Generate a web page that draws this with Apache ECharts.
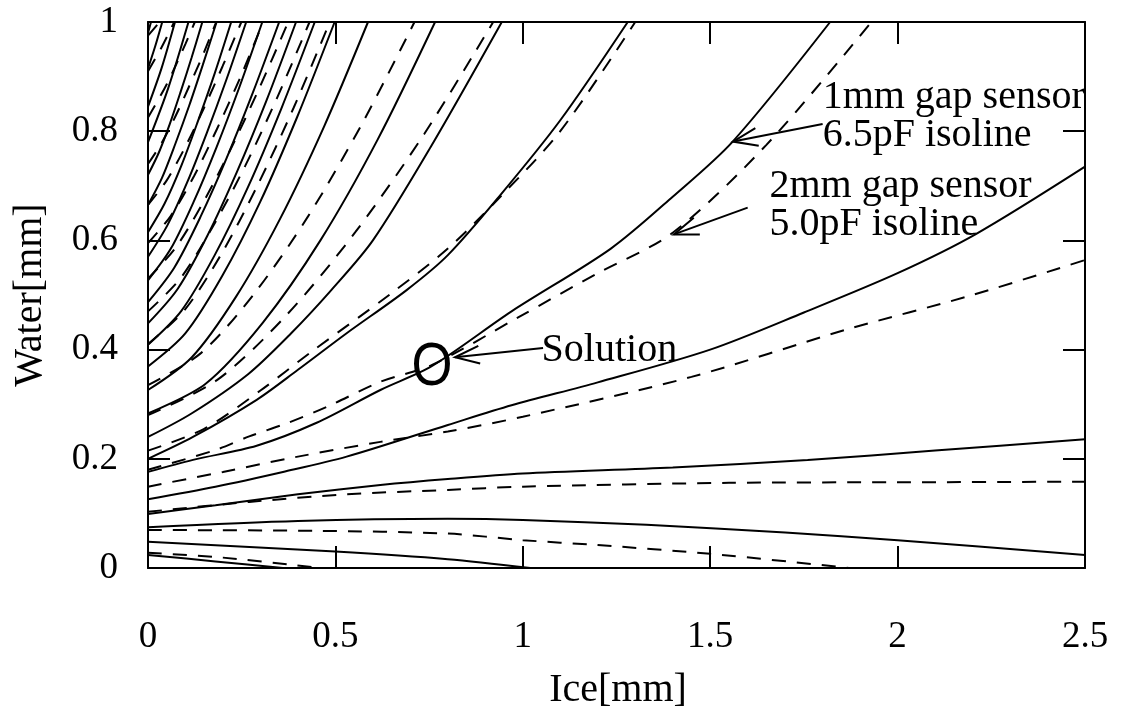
<!DOCTYPE html>
<html>
<head>
<meta charset="utf-8">
<script src="https://cdn.jsdelivr.net/npm/echarts@6/dist/echarts.min.js"></script>
<style>
  html, body { margin: 0; padding: 0; background: #fff; }
  #main { width: 1126px; height: 715px; }
</style>
</head>
<body>
<div id="main"></div>
<script>
// tick labels
const xTicks = ['0', '0.5', '1', '1.5', '2', '2.5'];
const yTicks = ['0', '0.2', '0.4', '0.6', '0.8', '1'];

// 1mm gap sensor isolines (solid), [ice, water]
const solid00 = [[0, 0.024], [0.18, 0.012], [0.36, 0]];
const solid01 = [[0, 0.048], [0.5, 0.03], [0.8, 0.016], [1.02, 0]];
const solid02 = [[0, 0.0745], [0.4, 0.086], [0.8, 0.09], [1.0, 0.088], [1.33, 0.079], [1.7, 0.065], [2.0, 0.051], [2.5, 0.024]];
const solid03 = [[0, 0.099], [0.18, 0.115], [0.4, 0.135], [0.62, 0.152], [0.8, 0.163], [1.0, 0.173], [1.4, 0.184], [1.76, 0.198], [2.1, 0.215], [2.5, 0.236]];
const solid04 = [[0, 0.126], [0.18, 0.149], [0.36, 0.176], [0.53, 0.204], [0.8, 0.262], [0.97, 0.298], [1.2, 0.34], [1.5, 0.4], [1.75, 0.468], [2.0, 0.54], [2.21, 0.612], [2.5, 0.735]];
const solid05 = [[0, 0.176], [0.12, 0.198], [0.29, 0.224], [0.45, 0.266], [0.62, 0.326], [0.758, 0.37], [0.97, 0.47], [1.235, 0.585], [1.4, 0.68], [1.56, 0.781], [1.82, 1.0]];
const solid06 = [[0, 0.2], [0.12, 0.24], [0.29, 0.308], [0.4, 0.363], [0.53, 0.43], [0.69, 0.509], [0.8, 0.573], [0.94, 0.683], [1.1, 0.82], [1.28, 1.0]];
const solid07 = [[0, 0.24], [0.116, 0.283], [0.267, 0.355], [0.382, 0.43], [0.489, 0.509], [0.6, 0.6], [0.755, 0.772], [0.944, 1]];
const solid08 = [[0, 0.283], [0.153, 0.337], [0.306, 0.449], [0.46, 0.6], [0.613, 0.785], [0.766, 1]];
const solid09 = [[0, 0.326], [0.117, 0.386], [0.235, 0.497], [0.352, 0.639], [0.47, 0.809], [0.587, 1]];
const solid10 = [[0, 0.369], [0.1, 0.43], [0.199, 0.536], [0.299, 0.67], [0.398, 0.826], [0.498, 1]];
const solid11 = [[0, 0.409], [0.089, 0.471], [0.178, 0.573], [0.267, 0.698], [0.356, 0.842], [0.445, 1]];
const solid12 = [[0, 0.448], [0.079, 0.511], [0.158, 0.608], [0.237, 0.725], [0.316, 0.856], [0.395, 1]];
const solid13 = [[0, 0.487], [0.07, 0.55], [0.14, 0.643], [0.21, 0.751], [0.28, 0.871], [0.35, 1]];
const solid14 = [[0, 0.527], [0.061, 0.585], [0.122, 0.671], [0.183, 0.771], [0.244, 0.881], [0.305, 1]];
const solid15 = [[0, 0.57], [0.052, 0.628], [0.105, 0.707], [0.157, 0.797], [0.21, 0.896], [0.262, 1]];
const solid16 = [[0, 0.615], [0.044, 0.667], [0.089, 0.737], [0.133, 0.818], [0.178, 0.906], [0.222, 1]];
const solid17 = [[0, 0.665], [0.037, 0.714], [0.073, 0.777], [0.11, 0.847], [0.146, 0.921], [0.183, 1]];
const solid18 = [[0, 0.72], [0.029, 0.761], [0.058, 0.813], [0.087, 0.872], [0.116, 0.934], [0.145, 1]];
const solid19 = [[0, 0.78], [0.054, 0.879], [0.108, 1]];
const solid20 = [[0, 0.845], [0.036, 0.915], [0.072, 1]];
const solid21 = [[0, 0.915], [0.019, 0.955], [0.038, 1]];
const solid22 = [[0, 0.98], [0.008, 1]];

// 2mm gap sensor isolines (dashed)
const dash00 = [[0, 0.028], [0.2, 0.019], [0.46, 0]];
const dash01 = [[0, 0.0696], [0.45, 0.068], [0.8, 0.063], [1.0, 0.051], [1.2, 0.042], [1.5, 0.026], [1.87, 0]];
const dash02 = [[0, 0.103], [0.27, 0.121], [0.53, 0.135], [0.8, 0.143], [1.0, 0.149], [1.55, 0.156], [2.0, 0.157], [2.5, 0.158]];
const dash03 = [[0, 0.149], [0.2, 0.176], [0.4, 0.204], [0.62, 0.231], [0.8, 0.25], [1.0, 0.277], [1.45, 0.35], [1.86, 0.436], [2.2, 0.5], [2.5, 0.564]];
const dash04 = [[0, 0.18], [0.18, 0.216], [0.27, 0.241], [0.37, 0.265], [0.48, 0.296], [0.62, 0.341], [0.758, 0.372], [0.99, 0.46], [1.2, 0.54], [1.4, 0.614], [1.65, 0.775], [1.93, 1.0]];
const dash05 = [[0, 0.215], [0.15, 0.255], [0.3, 0.325], [0.436, 0.396], [0.649, 0.503], [0.8, 0.585], [0.94, 0.68], [1.1, 0.8], [1.3, 1]];
const dash06 = [[0, 0.28], [0.184, 0.344], [0.368, 0.462], [0.553, 0.615], [0.737, 0.795], [0.921, 1]];
const dash07 = [[0, 0.335], [0.142, 0.394], [0.284, 0.503], [0.427, 0.644], [0.569, 0.811], [0.711, 1]];
const dash08 = [[0, 0.41], [0.097, 0.472], [0.194, 0.573], [0.291, 0.699], [0.388, 0.842], [0.485, 1]];
const dash09 = [[0, 0.47], [0.086, 0.53], [0.172, 0.624], [0.259, 0.736], [0.345, 0.862], [0.431, 1]];
const dash10 = [[0, 0.53], [0.075, 0.588], [0.15, 0.673], [0.224, 0.772], [0.299, 0.882], [0.374, 1]];
const dash11 = [[0, 0.595], [0.061, 0.645], [0.123, 0.718], [0.184, 0.804], [0.246, 0.898], [0.307, 1]];
const dash12 = [[0, 0.665], [0.05, 0.71], [0.1, 0.772], [0.149, 0.842], [0.199, 0.919], [0.249, 1]];
const dash13 = [[0, 0.74], [0.036, 0.778], [0.073, 0.827], [0.109, 0.881], [0.146, 0.939], [0.182, 1]];
const dash14 = [[0, 0.825], [0.05, 0.886], [0.1, 0.96], [0.125, 1]];
const dash15 = [[0, 0.91], [0.035, 0.952], [0.07, 1]];
const dash16 = [[0, 0.975], [0.031, 1]];

const solidLines = [solid00, solid01, solid02, solid03, solid04, solid05, solid06, solid07, solid08, solid09, solid10, solid11,
    solid12, solid13, solid14, solid15, solid16, solid17, solid18, solid19, solid20, solid21, solid22];
const dashLines = [dash00, dash01, dash02, dash03, dash04, dash05, dash06, dash07, dash08, dash09, dash10, dash11,
    dash12, dash13, dash14, dash15, dash16];

// annotations (data coords)
const solutionPoint = [0.758, 0.37];
const notes = [
    { lines: ['1mm gap sensor', '6.5pF isoline'], at: [1.8, 0.8626], tail: [1.8, 0.813], tip: [1.561, 0.781] },
    { lines: ['2mm gap sensor', '5.0pF isoline'], at: [1.658, 0.698], tail: [1.6, 0.66], tip: [1.403, 0.611] },
    { lines: ['Solution'], at: [1.05, 0.399], tail: [1.054, 0.403], tip: [0.819, 0.386] }
];

const serif = '"Liberation Serif", "DejaVu Serif", serif';
const chart = echarts.init(document.getElementById('main'), null, { renderer: 'canvas' });

function axisX(pos, labels) {
    return {
        type: 'value', position: pos, min: 0, max: 2.5, interval: 0.5,
        axisLine: { show: true, onZero: false, lineStyle: { color: '#000', width: 2 } },
        axisTick: { inside: true, length: 22, lineStyle: { color: '#000', width: 2 } },
        axisLabel: {
            show: labels, margin: 51, fontSize: 37, fontFamily: serif, color: '#000',
            formatter: (v) => xTicks[Math.round(v / 0.5)]
        },
        splitLine: { show: false }
    };
}
function axisY(pos, labels) {
    return {
        type: 'value', position: pos, min: 0, max: 1, interval: 0.2,
        axisLine: { show: true, onZero: false, lineStyle: { color: '#000', width: 2 } },
        axisTick: { inside: true, length: 22, lineStyle: { color: '#000', width: 2 } },
        axisLabel: {
            show: labels, margin: 30, fontSize: 37, fontFamily: serif, color: '#000',
            formatter: (v) => yTicks[Math.round(v / 0.2)]
        },
        splitLine: { show: false }
    };
}

let series = [];
solidLines.forEach((d, i) => {
    series.push({
        type: 'line', name: 's' + i, data: d, showSymbol: false, smooth: 0.3, clip: true, silent: true,
        lineStyle: { color: '#000', width: 2 }
    });
});
dashLines.forEach((d, i) => {
    series.push({
        type: 'line', name: 'd' + i, data: d, showSymbol: false, smooth: 0.3, clip: true, silent: true,
        lineStyle: { color: '#000', width: 2, type: [14, 11] }
    });
});

chart.setOption({
    animation: false,
    backgroundColor: '#fff',
    grid: { left: 148, top: 22, width: 937, height: 546, containLabel: false },
    xAxis: [axisX('bottom', true), axisX('top', false)],
    yAxis: [axisY('left', true), axisY('right', false)],
    series: series
});

// text + arrows placed from data coords
let g = [];
const px = (p) => chart.convertToPixel({ xAxisIndex: 0, yAxisIndex: 0 }, p);

notes.forEach((n) => {
    const a = px(n.at);
    n.lines.forEach((t, k) => {
        g.push({
            type: 'text', silent: true,
            style: { text: t, x: a[0], y: a[1] + k * 38, font: '40px ' + serif, fill: '#000', verticalAlign: 'middle' }
        });
    });
    const tl = px(n.tail), tp = px(n.tip);
    const ang = Math.atan2(tl[1] - tp[1], tl[0] - tp[0]);
    const hl = 26, ha = 0.35;
    g.push({ type: 'polyline', silent: true, shape: { points: [tl, tp] }, style: { stroke: '#000', lineWidth: 2, fill: null } });
    g.push({
        type: 'polyline', silent: true,
        shape: { points: [
            [tp[0] + hl * Math.cos(ang + ha), tp[1] + hl * Math.sin(ang + ha)],
            tp,
            [tp[0] + hl * Math.cos(ang - ha), tp[1] + hl * Math.sin(ang - ha)]
        ] },
        style: { stroke: '#000', lineWidth: 2, fill: null }
    });
});

const o = px(solutionPoint);
g.push({
    type: 'text', silent: true, x: o[0], y: o[1], scaleX: 0.85,
    style: { text: 'O', x: 0, y: 2, font: '62px "Liberation Sans", Arial, sans-serif', fill: '#000', align: 'center', verticalAlign: 'middle' }
});

g.push({
    type: 'text', silent: true,
    style: { text: 'Ice[mm]', x: 618, y: 690, font: '40px ' + serif, fill: '#000', align: 'center', verticalAlign: 'middle' }
});
g.push({
    type: 'text', silent: true, x: 30, y: 295, rotation: Math.PI / 2,
    style: { text: 'Water[mm]', x: 0, y: 0, font: '40px ' + serif, fill: '#000', align: 'center', verticalAlign: 'middle' }
});

chart.setOption({ graphic: g });
</script>
</body>
</html>
